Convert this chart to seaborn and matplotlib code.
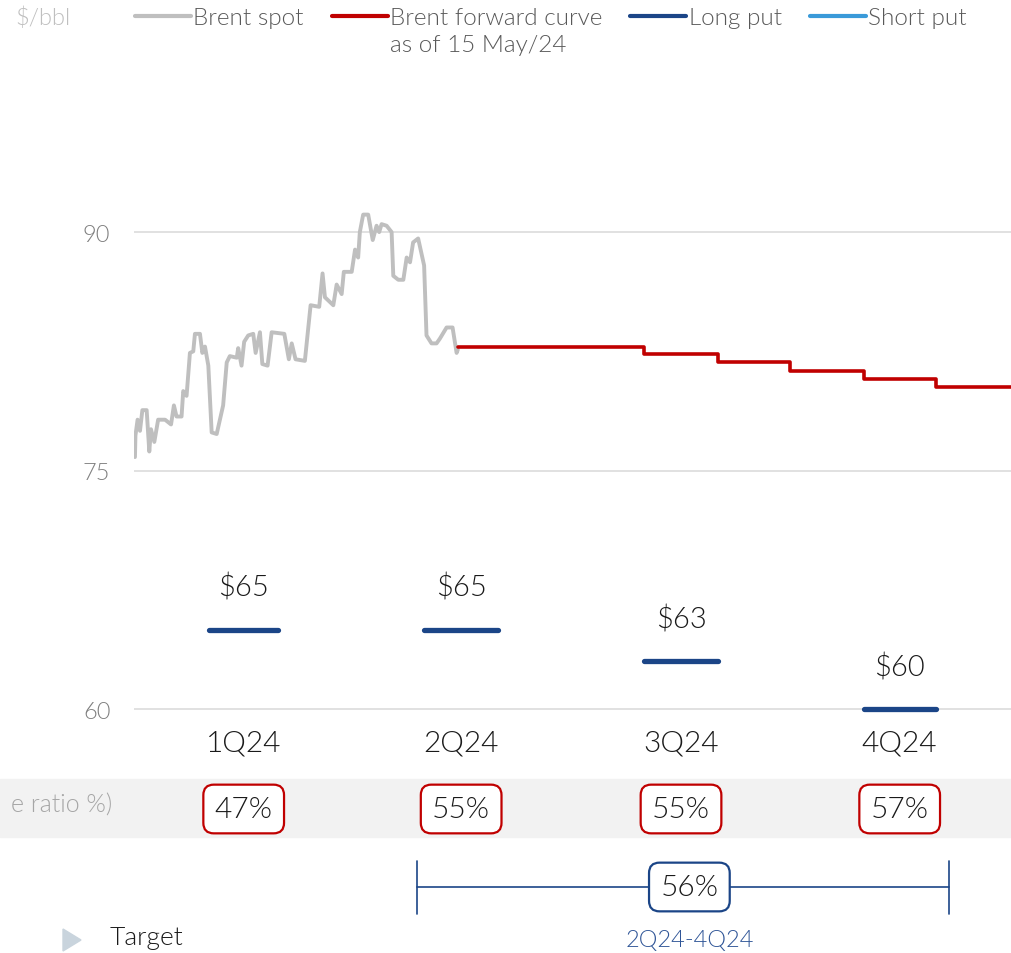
"""Brent spot vs forward curve with long put levels and hedge ratios, 2024."""

import matplotlib.pyplot as plt
import seaborn as sns
from matplotlib.lines import Line2D
from matplotlib.patches import Polygon, Rectangle
from matplotlib.transforms import blended_transform_factory

# ---- data (x in day-of-year 2024) ----
spot_day = [
    0, 0.2, 1.1, 2.1, 3.1, 4.9, 6.0, 6.7, 8.1, 9.7, 12.6, 15.1, 16.3, 17.4, 19.5,
    20.2, 21.6, 23.0, 24.4, 25.1, 27.2, 28.2, 29.3, 30.7, 32.1, 34.2, 36.9, 38.4,
    39.7, 42.6, 43.2, 44.6, 45.7, 47.4, 49.5, 50.5, 52.3, 53.3, 55.5, 57.2, 62.5,
    64.4, 65.6, 67.2, 71.1, 73.5, 77.1, 78.5, 79.5, 83.0, 84.4, 86.5, 87.4, 90.7,
    92.1, 93.4, 94.1, 95.5, 97.6, 99.5, 101.1, 102.2, 103.2, 105.3, 107.4, 108.1,
    110.2, 112.3, 113.7, 115.1, 116.4, 118.5, 121.0, 122.0, 124.1, 126.2, 127.6,
    130.4, 132.9, 134.6, 135.1,
]
spot_price = [
    75.85, 77.2, 78.2, 77.5, 78.8, 78.8, 76.2, 77.6, 76.8, 78.2, 78.2, 77.9, 79.1,
    78.4, 78.4, 80.0, 79.7, 82.4, 82.5, 83.6, 83.6, 82.4, 82.8, 81.6, 77.4, 77.3,
    79.1, 81.8, 82.2, 82.1, 82.7, 81.6, 83.1, 83.5, 83.6, 82.4, 83.7, 81.7, 81.6,
    83.7, 83.6, 82.0, 83.0, 82.0, 81.9, 85.4, 85.3, 87.4, 85.9, 85.4, 86.7, 86.1,
    87.5, 87.5, 88.9, 88.4, 90.0, 91.1, 91.1, 89.5, 90.4, 90.0, 90.5, 90.4, 90.0,
    87.25, 87.0, 87.0, 88.4, 88.1, 89.35, 89.6, 87.9, 83.5, 83.0, 83.0, 83.3, 84.0,
    84.0, 82.4, 82.6,
]

# forward curve as of 15 May/24, monthly contracts
fwd_day = [135.1, 213, 244, 274, 305, 335, 367]
fwd_price = [82.77, 82.33, 81.8, 81.26, 80.75, 80.25, 80.25]

quarters = ["1Q24", "2Q24", "3Q24", "4Q24"]
put_start = [31, 121, 213, 305]
put_end = [60, 152, 244, 335]
long_put = [65, 65, 63, 60]
hedge_ratio = [47, 55, 55, 57]

avg_ratio = 56
avg_label = "2Q24-4Q24"

GRAY = "#bfbfbf"
RED = "#c00000"
NAVY = "#1b4587"
LIGHT_BLUE = "#3a9ad9"
TEXT = "#1a1a1a"

W, H = 1012, 954


def fx(px):
    return px / W


def fy(py):
    return 1 - py / H


sns.set_style("white")
plt.rcParams["font.family"] = ["Lato", "DejaVu Sans"]
plt.rcParams["font.weight"] = 300

fig = plt.figure(figsize=(W / 100, H / 100), dpi=100)
ax = fig.add_axes([fx(134), fy(770), fx(1012 - 134), (770 - 90) / H])

sns.lineplot(x=spot_day, y=spot_price, ax=ax, color=GRAY, lw=2.8,
             estimator=None, sort=False)
sns.lineplot(x=fwd_day, y=fwd_price, ax=ax, color=RED, lw=2.6,
             drawstyle="steps-post", estimator=None)

centers = [(s + e) / 2 for s, e in zip(put_start, put_end)]
puts = ax.hlines(long_put, put_start, put_end, colors=NAVY, lw=3.8)
puts.set_capstyle("round")

for c, v in zip(centers, long_put):
    ax.annotate(f"${v}", (c, v), xytext=(0, 31), textcoords="offset points",
                ha="center", va="center", fontsize=21, color=TEXT)

for c, q in zip(centers, quarters):
    ax.text(c, 57.9, q, ha="center", va="center", fontsize=21.5, color=TEXT)

ax.set_xlim(-0.4, 367)
ax.set_ylim(56.23, 99.0)
ax.set_xticks([])
ax.set_yticks([60, 75, 90])
ax.tick_params(axis="y", length=0, pad=17, labelsize=17, labelcolor="#7f7f7f")
ax.yaxis.grid(True, color="#d9d9d9", lw=1.1)
ax.set_xlabel("")
ax.set_ylabel("")
for spine in ax.spines.values():
    spine.set_visible(False)

# hedge ratio band
fig.patches.append(Rectangle((0, fy(838)), 1, (838 - 780) / H,
                             transform=fig.transFigure, color="#f2f2f2", zorder=-1))
fig.text(fx(112), fy(806), "e ratio %)", ha="right", va="center",
         fontsize=18, color="#a6a6a6")

blend = blended_transform_factory(ax.transData, fig.transFigure)
box_style = "round,pad=0.38,rounding_size=0.35"
for c, r in zip(centers, hedge_ratio):
    ax.text(c, fy(810), f"{r}%", transform=blend, ha="center", va="center",
            fontsize=21.5, color=TEXT, zorder=5,
            bbox=dict(boxstyle=box_style, fc="white", ec=RED, lw=1.6))

# average bracket 2Q24-4Q24
br_left, br_right = 118, 340.5
ax.plot([br_left, br_right], [fy(888), fy(888)], transform=blend, color=NAVY,
        lw=1.2, clip_on=False)
for xb in (br_left, br_right):
    ax.plot([xb, xb], [fy(862), fy(915)], transform=blend, color=NAVY, lw=1.2,
            clip_on=False)
ax.text(232, fy(888), f"{avg_ratio}%", transform=blend, ha="center", va="center",
        fontsize=21.5, color=TEXT, zorder=5,
        bbox=dict(boxstyle=box_style, fc="white", ec=NAVY, lw=1.6))
ax.text(232, fy(941), avg_label, transform=blend, ha="center", va="center",
        fontsize=17, color="#2f5597")

# "Target" bullet at bottom
fig.patches.append(Polygon([(fx(63), fy(930)), (fx(63), fy(952)), (fx(81), fy(941))],
                           closed=True, transform=fig.transFigure, color="#c9d4dd"))
fig.text(fx(110), fy(926), "Target", ha="left", va="top", fontsize=19, color=TEXT)

# legend
fig.text(fx(15), fy(18), "$/bbl", ha="left", va="center", fontsize=17, color=GRAY)
handles = [
    Line2D([], [], color=GRAY, lw=3),
    Line2D([], [], color=RED, lw=3),
    Line2D([], [], color=NAVY, lw=3),
    Line2D([], [], color=LIGHT_BLUE, lw=3),
]
labels = ["Brent spot", "Brent forward curve", "Long put", "Short put"]
leg = fig.legend(handles, labels, loc="upper left", bbox_to_anchor=(fx(135), fy(8)),
                 ncol=4, frameon=False, fontsize=17.5, handlelength=2.3,
                 handletextpad=0.1, columnspacing=1.15, borderpad=0,
                 borderaxespad=0, labelcolor="#595959")

fig.canvas.draw()
red_bb = leg.get_texts()[1].get_window_extent()
fig.text(red_bb.x0 / fig.bbox.width, fy(46), "as of 15 May/24", ha="left",
         va="center", fontsize=17.5, color="#595959")

fig.savefig("out.png", dpi=100)
